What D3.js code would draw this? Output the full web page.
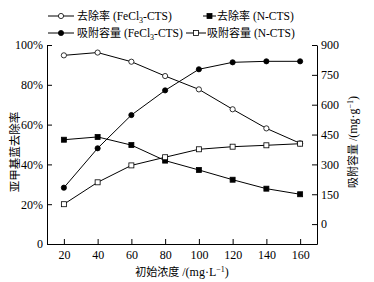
<!DOCTYPE html>
<html><head><meta charset="utf-8">
<script src="https://cdn.jsdelivr.net/npm/d3@7"></script>
<style>body{margin:0;background:#fff}svg text{font-family:"Liberation Serif","Noto Sans CJK SC",serif;fill:#000}</style>
</head><body><svg id="c" width="374" height="282"></svg>
<script>
const concentrations = [20,40,60,80,100,120,140,160];
const removalFeCl3 = [94.8,96.2,91.6,84.4,77.7,67.7,58.1,50.6];
const removalNCTS = [52.4,53.8,49.7,41.9,37.2,32.3,27.8,25.0];
const capacityFeCl3 = [183,381,548,672,778,813,818,818];
const capacityNCTS = [100,210,295,336,376,389,396,404];
const xTicks = [20,40,60,80,100,120,140,160];
const leftTicks = [0,20,40,60,80,100];
const rightTicks = [0,150,300,450,600,750,900];

const svg = d3.select("#c");
const L=47, R=317, T=45, B=244;
const x = d3.scaleLinear().domain([10,170]).range([L,R]);
const yL = d3.scaleLinear().domain([0,100]).range([B,T]);
const yR = d3.scaleLinear().domain([-100,900]).range([B,T]);

function styleAxis(g){g.selectAll("path").attr("stroke","#000").attr("stroke-width",1);
  g.selectAll("line").attr("stroke","#000");
  g.selectAll("text").style("font-size","12px").style("font-family",'"Liberation Serif","Noto Sans CJK SC",serif');}

svg.append("g").attr("transform",`translate(0,${B})`)
  .call(d3.axisBottom(x).tickValues(xTicks).tickSizeInner(-5).tickSizeOuter(0).tickPadding(6))
  .call(styleAxis);
svg.append("g").attr("transform",`translate(${L},0)`)
  .call(d3.axisLeft(yL).tickValues(leftTicks).tickSizeInner(-5).tickSizeOuter(0).tickPadding(4).tickFormat(d=>d===0?"0":d+"%"))
  .call(styleAxis);
svg.append("g").attr("transform",`translate(${R},0)`)
  .call(d3.axisRight(yR).tickValues(rightTicks).tickSizeInner(-5).tickSizeOuter(0).tickPadding(4))
  .call(styleAxis);

const series = [
  {vals:removalFeCl3, y:yL, shape:"circle", fill:"#fff"},
  {vals:removalNCTS, y:yL, shape:"square", fill:"#000"},
  {vals:capacityFeCl3, y:yR, shape:"circle", fill:"#000"},
  {vals:capacityNCTS, y:yR, shape:"square", fill:"#fff"}
];
function marker(g, shape, fill, cx, cy){
  if(shape==="circle") g.append("circle").attr("cx",cx).attr("cy",cy).attr("r",2.6).attr("fill",fill).attr("stroke","#000").attr("stroke-width",0.8);
  else g.append("rect").attr("x",cx-2.5).attr("y",cy-2.5).attr("width",5).attr("height",5).attr("fill",fill).attr("stroke","#000").attr("stroke-width",0.8);
}
series.forEach(s=>{
  const line = d3.line().x((d,i)=>x(concentrations[i])).y(d=>s.y(d));
  svg.append("path").datum(s.vals).attr("d",line).attr("fill","none").attr("stroke","#000").attr("stroke-width",1);
});
series.forEach(s=>{
  const g = svg.append("g");
  s.vals.forEach((v,i)=>marker(g,s.shape,s.fill,x(concentrations[i]),s.y(v)));
});

// legend: [chinese, latin-before-sub, sub, after]
const legend = [
  {x1:48,x2:74,tx:77,y:16,shape:"circle",fill:"#fff",label:["去除率"," (FeCl","3","-CTS)"]},
  {x1:203,x2:216,tx:217,y:16,shape:"square",fill:"#000",label:["去除率"," (N-CTS)"]},
  {x1:48,x2:74,tx:77,y:33,shape:"circle",fill:"#000",label:["吸附容量"," (FeCl","3","-CTS)"]},
  {x1:186,x2:206,tx:207,y:33,shape:"square",fill:"#fff",label:["吸附容量"," (N-CTS)"]}
];
legend.forEach(l=>{
  const g = svg.append("g");
  g.append("line").attr("x1",l.x1).attr("x2",l.x2).attr("y1",l.y).attr("y2",l.y).attr("stroke","#000").attr("stroke-width",1);
  marker(g,l.shape,l.fill,(l.x1+l.x2)/2,l.y);
  const t = g.append("text").attr("x",l.tx).attr("y",l.y+4).style("font-size","11.5px");
  t.append("tspan").style("font-size","11px").text(l.label[0]);
  t.append("tspan").text(l.label[1]);
  if(l.label.length>2){
    t.append("tspan").attr("dy",3).style("font-size","8px").text(l.label[2]);
    t.append("tspan").attr("dy",-3).text(l.label[3]);
  }
});

// axis titles
svg.append("text").attr("transform","translate(19,152) rotate(-90)").attr("text-anchor","middle").style("font-size","11.5px").text("亚甲基蓝去除率");
const rt = svg.append("text").attr("transform","translate(357,142) rotate(-90)").attr("text-anchor","middle").style("font-size","12px");
rt.append("tspan").style("font-size","11px").text("吸附容量");
rt.append("tspan").text(" /(mg·g");
rt.append("tspan").attr("dy",-4).style("font-size","8px").text("−1");
rt.append("tspan").attr("dy",4).text(")");
const xt = svg.append("text").attr("x",182).attr("y",276).attr("text-anchor","middle").style("font-size","12px");
xt.append("tspan").style("font-size","11px").text("初始浓度");
xt.append("tspan").text(" /(mg·L");
xt.append("tspan").attr("dy",-4).style("font-size","8px").text("−1");
xt.append("tspan").attr("dy",4).text(")");
</script></body></html>
